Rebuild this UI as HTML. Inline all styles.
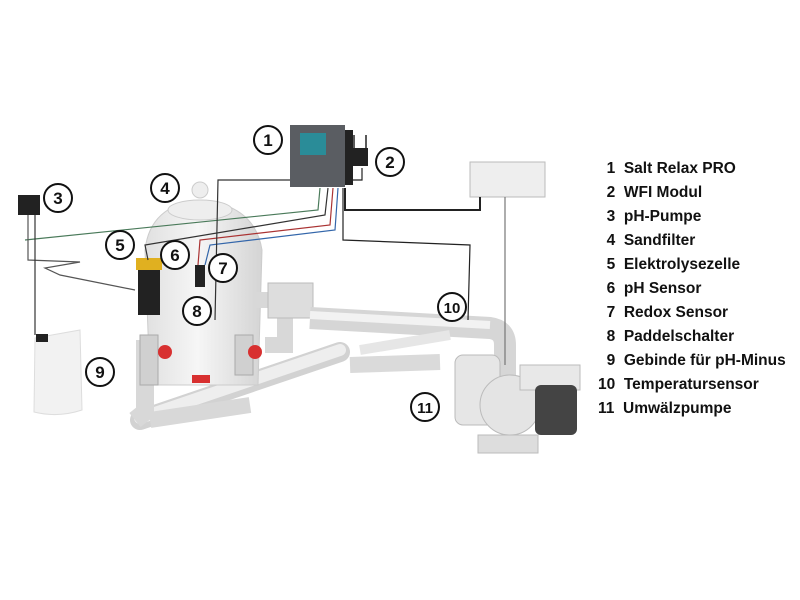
<!DOCTYPE html>
<html><head><style>
body{margin:0;background:#fff;width:800px;height:600px;overflow:hidden;font-family:"Liberation Sans",sans-serif}
.leg{position:absolute;left:598px;top:157px;font-weight:bold;font-size:15.5px;line-height:24px;color:#111}
</style></head><body>
<svg width="800" height="600" style="position:absolute;left:0;top:0">
<defs>
<linearGradient id="f" x1="0" y1="0" x2="1" y2="0"><stop offset="0" stop-color="#e0e0e0"/><stop offset="0.45" stop-color="#f6f6f6"/><stop offset="1" stop-color="#d4d4d4"/></linearGradient>
</defs>
<!-- diagonal pipe -->
<path d="M140 420 L340 352" stroke="#d2d2d2" stroke-width="20" stroke-linecap="round"/>
<path d="M140 418 L340 350" stroke="#eeeeee" stroke-width="12" stroke-linecap="round"/>
<path d="M145 340 L145 412 L135 420" stroke="#d8d8d8" stroke-width="18" fill="none"/>
<path d="M150 420 L250 405" stroke="#d8d8d8" stroke-width="16" fill="none"/>
<!-- filter -->
<path d="M150 385 L145 250 Q150 205 200 200 Q255 205 262 250 L258 385 Z" fill="url(#f)" stroke="#ccc"/>
<ellipse cx="200" cy="210" rx="32" ry="10" fill="#eee" stroke="#ccc"/>
<circle cx="200" cy="190" r="8" fill="#eee" stroke="#ccc"/>
<!-- right pipes -->
<path d="M255 300 L285 300 L285 345 L265 345" stroke="#d8d8d8" stroke-width="16" fill="none"/>
<rect x="268" y="283" width="45" height="35" fill="#ddd" stroke="#bbb"/>
<path d="M310 318 L490 328 Q505 330 505 345 L505 380" stroke="#d6d6d6" stroke-width="22" fill="none"/>
<path d="M310 315 L490 325" stroke="#f2f2f2" stroke-width="8"/>
<path d="M350 365 L440 362" stroke="#dadada" stroke-width="16"/>
<path d="M360 350 L450 335" stroke="#e6e6e6" stroke-width="10"/>
<!-- valves -->
<rect x="140" y="335" width="18" height="50" fill="#d0d0d0" stroke="#aaa"/>
<rect x="235" y="335" width="18" height="40" fill="#d0d0d0" stroke="#aaa"/>
<circle cx="165" cy="352" r="7" fill="#d83030"/><circle cx="255" cy="352" r="7" fill="#d83030"/>
<rect x="192" y="375" width="18" height="8" fill="#d83030"/>
<!-- pump -->
<rect x="455" y="355" width="45" height="70" rx="8" fill="#e6e6e6" stroke="#bbb"/>
<circle cx="510" cy="405" r="30" fill="#e4e4e4" stroke="#bbb"/>
<rect x="520" y="365" width="60" height="25" fill="#e8e8e8" stroke="#bbb"/>
<rect x="535" y="385" width="42" height="50" rx="6" fill="#444"/>
<rect x="478" y="435" width="60" height="18" fill="#ddd" stroke="#bbb"/>
<!-- jug -->
<path d="M35 338 L80 330 L82 410 Q58 418 34 412 Z" fill="#f2f2f2" stroke="#ddd"/>
<rect x="36" y="334" width="12" height="8" fill="#222"/>
<!-- electrolysis cell -->
<rect x="138" y="260" width="22" height="55" fill="#222"/>
<rect x="136" y="258" width="26" height="12" fill="#e0b020"/>
<rect x="195" y="265" width="10" height="22" fill="#222"/>
<!-- controller -->
<rect x="290" y="125" width="55" height="62" fill="#5a5d62"/>
<rect x="345" y="130" width="8" height="55" fill="#222"/>
<rect x="300" y="133" width="26" height="22" fill="#2a8c98"/>
<rect x="350" y="148" width="18" height="18" fill="#222"/>
<line x1="354" y1="150" x2="354" y2="135" stroke="#222" stroke-width="1.5"/><line x1="366" y1="150" x2="366" y2="135" stroke="#222" stroke-width="1.5"/>
<rect x="18" y="195" width="22" height="20" fill="#222"/>
<rect x="470" y="162" width="75" height="35" fill="#eee" stroke="#bbb"/>
<!-- wires -->
<g fill="none" stroke-width="1.2">
<path d="M320 188 L318 210 L25 240" stroke="#4a7a5a"/>
<path d="M328 188 L325 215 L145 245 L148 260" stroke="#333"/>
<path d="M333 188 L330 225 L200 240 L198 265" stroke="#a33"/>
<path d="M338 188 L335 230 L210 245 L205 265" stroke="#36a"/>
<path d="M290 180 L218 180 L215 320" stroke="#333"/>
<path d="M345 188 L345 210 L480 210 L480 197" stroke="#222" stroke-width="2"/>
<path d="M343 188 L343 240 L470 245 L468 320" stroke="#222"/>
<path d="M362 168 L362 180 L347 180" stroke="#222"/>
<path d="M28 215 L28 260 L80 262 L45 268 L60 275 L135 290" stroke="#555"/>
<path d="M35 215 L35 335" stroke="#333"/>
<path d="M505 197 L505 365" stroke="#777"/>
</g>
<!-- labels -->
<g font-family="Liberation Sans" font-weight="bold" font-size="17" text-anchor="middle" fill="#111">
<g stroke="#111" stroke-width="2" fill="#fff">
<circle cx="268" cy="140" r="14"/><circle cx="390" cy="162" r="14"/><circle cx="58" cy="198" r="14"/>
<circle cx="165" cy="188" r="14"/><circle cx="120" cy="245" r="14"/><circle cx="175" cy="255" r="14"/>
<circle cx="223" cy="268" r="14"/><circle cx="197" cy="311" r="14"/><circle cx="100" cy="372" r="14"/>
<circle cx="452" cy="307" r="14"/><circle cx="425" cy="407" r="14"/></g>
<text x="268" y="146">1</text><text x="390" y="168">2</text><text x="58" y="204">3</text>
<text x="165" y="194">4</text><text x="120" y="251">5</text><text x="175" y="261">6</text>
<text x="223" y="274">7</text><text x="197" y="317">8</text><text x="100" y="378">9</text>
<text x="452" y="313" font-size="15">10</text><text x="425" y="413" font-size="15">11</text>
</g>
</svg>
<div class="leg">
&nbsp;&nbsp;1&nbsp; Salt Relax PRO<br>&nbsp;&nbsp;2&nbsp; WFI Modul<br>&nbsp;&nbsp;3&nbsp; pH-Pumpe<br>&nbsp;&nbsp;4&nbsp; Sandfilter<br>&nbsp;&nbsp;5&nbsp; Elektrolysezelle<br>&nbsp;&nbsp;6&nbsp; pH Sensor<br>&nbsp;&nbsp;7&nbsp; Redox Sensor<br>&nbsp;&nbsp;8&nbsp; Paddelschalter<br>&nbsp;&nbsp;9&nbsp; Gebinde für pH-Minus<br>10&nbsp; Temperatursensor<br>11&nbsp; Umwälzpumpe
</div>
</body></html>
